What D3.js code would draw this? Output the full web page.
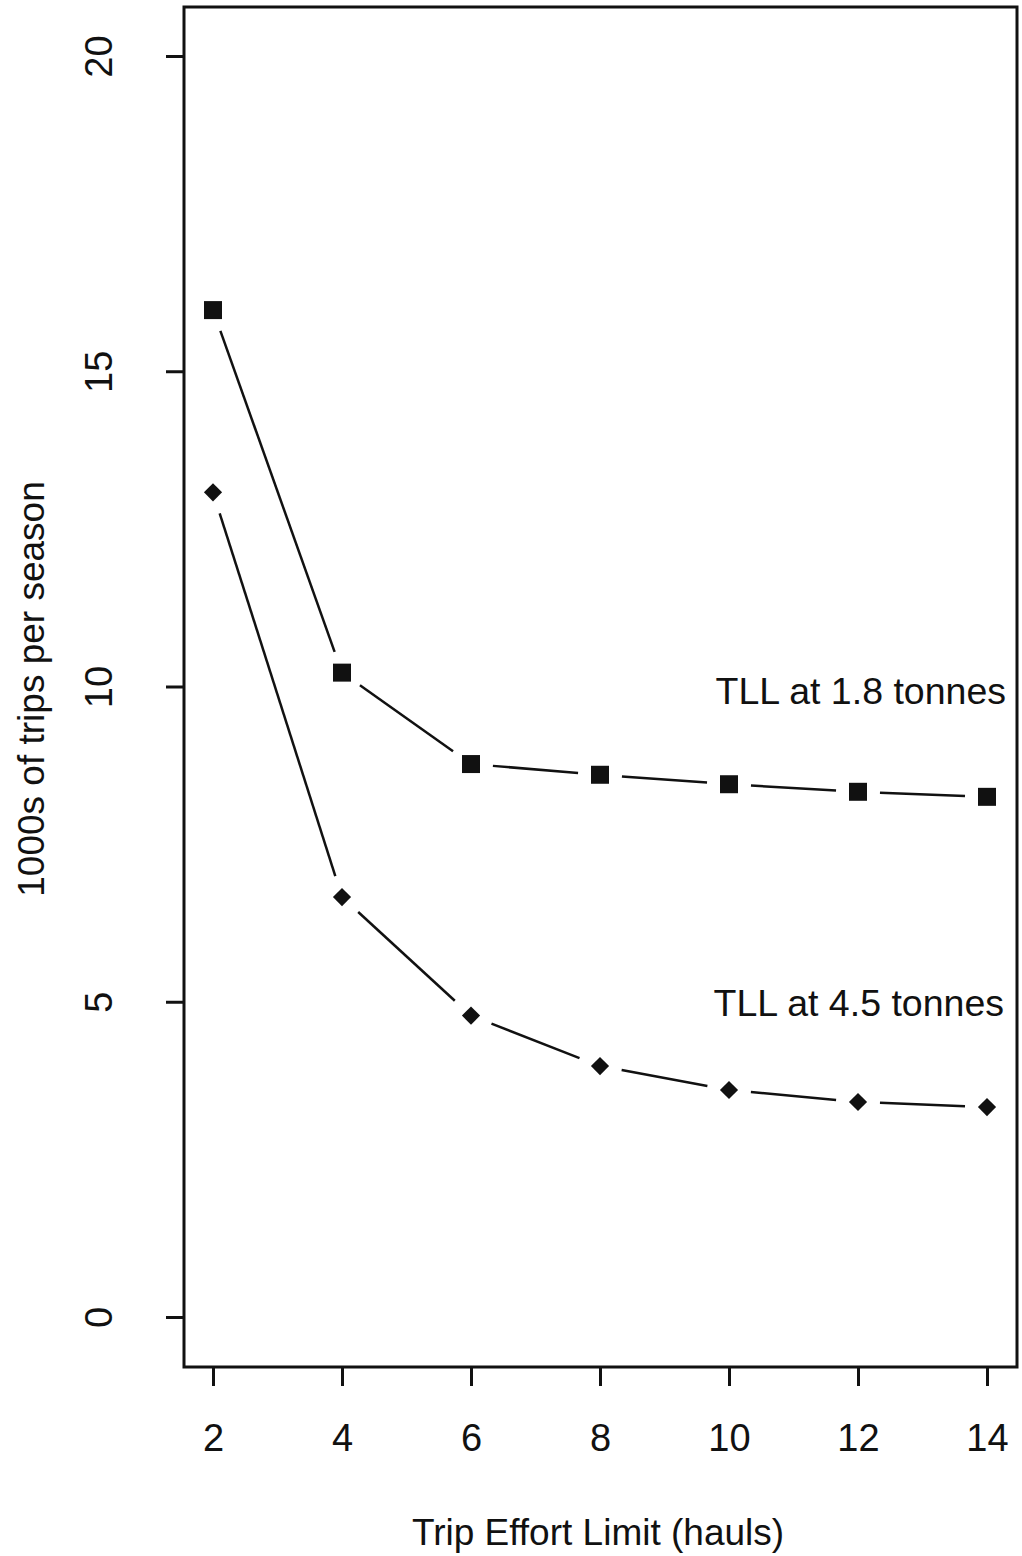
<!DOCTYPE html>
<html>
<head>
<meta charset="utf-8">
<script src="https://cdn.jsdelivr.net/npm/d3@7"></script>
<style>
  body { margin: 0; background: #fff; }
  text { font-family: "Liberation Sans", Arial, sans-serif; fill: #111; }
</style>
</head>
<body>
<div id="chart"></div>
<script>
// data
var effortLimits = [2, 4, 6, 8, 10, 12, 14];
var trips18 = [15.97, 10.22, 8.77, 8.6, 8.45, 8.33, 8.25];
var trips45 = [13.08, 6.66, 4.78, 3.98, 3.6, 3.41, 3.33];
var xTicks = [2, 4, 6, 8, 10, 12, 14];
var yTicks = [0, 5, 10, 15, 20];
var seriesLabels = ["TLL at 1.8 tonnes", "TLL at 4.5 tonnes"];

var W = 1022, H = 1556;
var box = {left: 184, right: 1017, top: 7, bottom: 1367};

var svg = d3.select("#chart").append("svg")
    .attr("width", W)
    .attr("height", H);

var x = d3.scaleLinear().domain([2, 14]).range([213, 987]);
var y = d3.scaleLinear().domain([0, 20]).range([1317, 56]);

// frame
svg.append("rect")
    .attr("x", box.left).attr("y", box.top)
    .attr("width", box.right - box.left).attr("height", box.bottom - box.top)
    .attr("fill", "none").attr("stroke", "#111").attr("stroke-width", 3);

// axes
var xAxis = svg.append("g")
    .attr("transform", "translate(0," + box.bottom + ")")
    .call(d3.axisBottom(x).tickValues(xTicks).tickSize(19).tickPadding(38));
xAxis.select(".domain").remove();
xAxis.selectAll("line").attr("stroke", "#111").attr("stroke-width", 3);
xAxis.selectAll("text").style("font-size", "38px").attr("fill", "#111");

var yAxis = svg.append("g")
    .attr("transform", "translate(" + box.left + ",0)")
    .call(d3.axisLeft(y).tickValues(yTicks).tickSize(18).tickPadding(0));
yAxis.select(".domain").remove();
yAxis.selectAll("line").attr("stroke", "#111").attr("stroke-width", 3);
yAxis.selectAll("text")
    .style("font-size", "38px")
    .attr("fill", "#111")
    .attr("x", 0).attr("dy", 0)
    .attr("text-anchor", "middle")
    .attr("transform", "translate(-72,0) rotate(-90)");

// axis titles
svg.append("text")
    .attr("x", 598).attr("y", 1545)
    .attr("text-anchor", "middle")
    .style("font-size", "37px")
    .text("Trip Effort Limit (hauls)");

svg.append("text")
    .attr("transform", "translate(44,689) rotate(-90)")
    .attr("text-anchor", "middle")
    .style("font-size", "37px")
    .text("1000s of trips per season");

// R type="b" style: segments that stop short of the points
function gappedSegments(vals, gap) {
    var segs = [];
    for (var i = 0; i < vals.length - 1; i++) {
        var x1 = x(effortLimits[i]), y1 = y(vals[i]);
        var x2 = x(effortLimits[i + 1]), y2 = y(vals[i + 1]);
        var len = Math.sqrt((x2 - x1) * (x2 - x1) + (y2 - y1) * (y2 - y1));
        var ux = (x2 - x1) / len, uy = (y2 - y1) / len;
        segs.push([x1 + ux * gap, y1 + uy * gap, x2 - ux * gap, y2 - uy * gap]);
    }
    return segs;
}

[trips18, trips45].forEach(function(vals) {
    svg.append("g").selectAll("line")
        .data(gappedSegments(vals, 22))
        .enter().append("line")
        .attr("x1", function(d) { return d[0]; })
        .attr("y1", function(d) { return d[1]; })
        .attr("x2", function(d) { return d[2]; })
        .attr("y2", function(d) { return d[3]; })
        .attr("stroke", "#111")
        .attr("stroke-width", 2.5);
});

svg.append("g").selectAll("path")
    .data(trips18)
    .enter().append("path")
    .attr("d", d3.symbol().type(d3.symbolSquare).size(324))
    .attr("transform", function(d, i) { return "translate(" + x(effortLimits[i]) + "," + y(d) + ")"; })
    .attr("fill", "#111");

svg.append("g").selectAll("path")
    .data(trips45)
    .enter().append("path")
    .attr("d", d3.symbol().type(d3.symbolSquare).size(165))
    .attr("transform", function(d, i) { return "translate(" + x(effortLimits[i]) + "," + y(d) + ") rotate(45)"; })
    .attr("fill", "#111");

// labels next to the curves
svg.append("text")
    .attr("x", 1006).attr("y", y(9.72))
    .attr("text-anchor", "end")
    .style("font-size", "37.5px")
    .text(seriesLabels[0]);

svg.append("text")
    .attr("x", 1004).attr("y", y(4.78))
    .attr("text-anchor", "end")
    .style("font-size", "37.5px")
    .text(seriesLabels[1]);
</script>
</body>
</html>
